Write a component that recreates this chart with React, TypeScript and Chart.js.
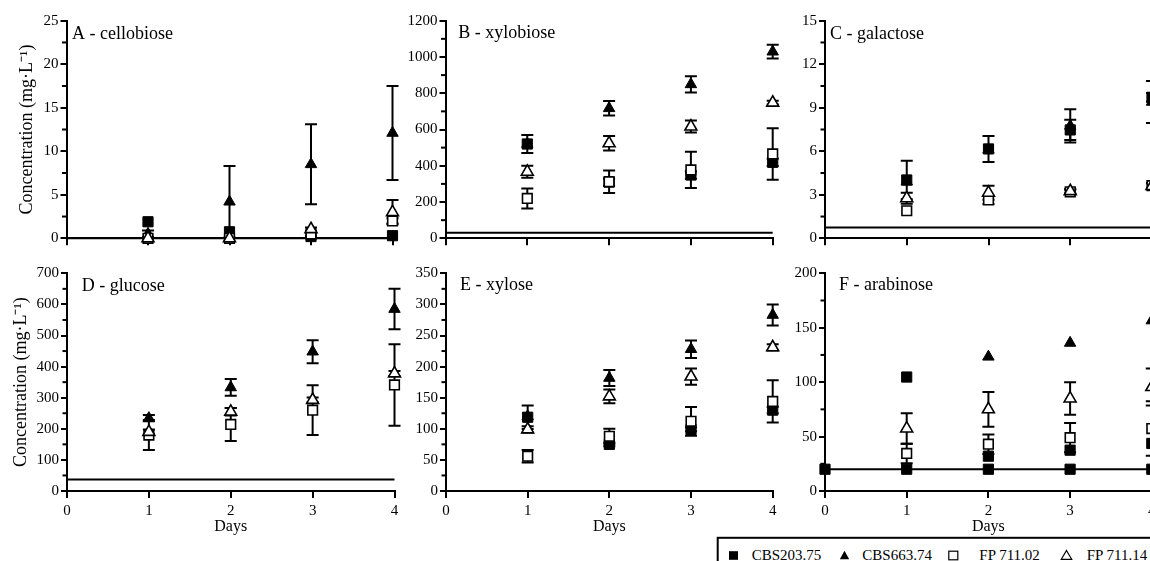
import React, { useEffect, useRef } from 'react';
import { Chart, registerables } from 'chart.js';

Chart.register(...registerables);

const FONT = '"Liberation Serif", "Times New Roman", Times, serif';

// ---------------- data ----------------
const days = [1, 2, 3, 4];
const lineDays = [0, 1, 2, 3, 4];
const seriesNames = ['CBS203.75', 'CBS663.74', 'FP 711.02', 'FP 711.14'];
const panelTitles = ['A - cellobiose', 'B - xylobiose', 'C - galactose', 'D - glucose', 'E - xylose', 'F - arabinose'];
const yAxisMax = [25, 1200, 15, 700, 350, 200];
const yAxisStep = [5, 200, 3, 100, 50, 50];
const yMinorStep = [2.5, 100, 1.5, 50, 25, 25];
const limitLines = [0, 30, 0.75, 37, 0, 20];
const limitMarkers = [false, false, false, false, false, true];
const yAxisTitle = 'Concentration (mg·L⁻¹)';
const xAxisTitle = 'Days';

// rows: CBS203.75, CBS663.74, FP 711.02, FP 711.14 ; columns: days 1..4
const cellobioseMean = [[1.9, 0.75, 0.2, 0.3], [0.5, 4.2, 8.5, 12.1], [0, 0, 0.5, 2.0], [0, 0, 1.05, 3.0]];
const cellobioseSd = [[0, 0, 0, 0], [0.4, 4.1, 4.6, 5.4], [0, 0, 0.2, 0.3], [0, 0, 0.2, 1.4]];

const xylobioseMean = [[520, 310, 349, 419], [520, 717, 849, 1029], [220, 312, 377, 465], [367, 524, 616, 748]];
const xylobioseSd = [[50, 20, 20, 20], [0, 40, 45, 38], [55, 62, 100, 142], [33, 40, 33, 10]];

const galactoseMean = [[4.02, 6.16, 7.47, 9.72], [3.9, 6.1, 7.75, 9.4], [1.9, 2.64, 3.2, 3.63], [2.76, 3.14, 3.25, 3.6]];
const galactoseSd = [[1.33, 0.9, 0.7, 0.3], [0, 0, 1.15, 1.45], [0, 0.27, 0.15, 0.2], [0.38, 0.49, 0.15, 0.2]];

const glucoseMean = [[null, null, null, null], [234, 333, 448, 585], [180, 214, 260, 341], [190, 255, 293, 378]];
const glucoseSd = [[0, 0, 0, 0], [10, 27, 37, 65], [48, 53, 80, 131], [8, 12, 8, 8]];

const xyloseMean = [[118.6, 75, 99, 130], [120, 181.7, 228, 283], [56, 88, 112, 144], [99, 152, 184, 231]];
const xyloseSd = [[19, 3, 3, 5], [0, 13, 14, 17], [10, 12, 23, 34], [5, 11, 13, 5]];

const arabinoseMean = [[104.7, 32, 37.5, 43.7], [null, 123.3, 136, 156.6], [34.5, 43, 49, 57.4], [57.4, 75, 85, 95.5]];
const arabinoseSd = [[0, 0, 0, 0], [0, 0, 0, 0], [9, 9, 13.5, 25], [14, 16, 15, 17]];

const panelMeans = [cellobioseMean, xylobioseMean, galactoseMean, glucoseMean, xyloseMean, arabinoseMean];
const panelSds = [cellobioseSd, xylobioseSd, galactoseSd, glucoseSd, xyloseSd, arabinoseSd];

// ---------------- layout & style ----------------
const layouts = [
  { left: 0, top: 0, width: 420, height: 252, plotLeft: 66.5, plotRight: 392.5, plotTop: 20.7, plotBottom: 238.3, yTitle: true, xLabels: false, titleDx: 5.5, titleDy: 18.6, yTitlePad: 16.2 },
  { left: 380, top: 0, width: 420, height: 252, plotLeft: 445.5, plotRight: 772.7, plotTop: 20.7, plotBottom: 238.3, yTitle: false, xLabels: false, titleDx: 12.8, titleDy: 17.6, yTitlePad: 0 },
  { left: 760, top: 0, width: 420, height: 252, plotLeft: 825, plotRight: 1152, plotTop: 20.7, plotBottom: 238.3, yTitle: false, xLabels: false, titleDx: 5, titleDy: 18.3, yTitlePad: 0 },
  { left: 0, top: 252, width: 420, height: 309, plotLeft: 67, plotRight: 394.5, plotTop: 273.3, plotBottom: 491, yTitle: true, xLabels: true, titleDx: 14.7, titleDy: 17.4, yTitlePad: 10.8 },
  { left: 380, top: 252, width: 420, height: 309, plotLeft: 446, plotRight: 772.7, plotTop: 273.3, plotBottom: 491, yTitle: false, xLabels: true, titleDx: 14, titleDy: 17, yTitlePad: 0 },
  { left: 760, top: 252, width: 420, height: 309, plotLeft: 825, plotRight: 1151.8, plotTop: 273.3, plotBottom: 491, yTitle: false, xLabels: true, titleDx: 14, titleDy: 17, yTitlePad: 0 },
];

const markerStyles: any[] = [
  { pointStyle: 'rect', pointBackgroundColor: '#000', pointBorderColor: '#000', pointBorderWidth: 1, pointRadius: 7.2, order: 4 },
  { pointStyle: 'triangle', pointBackgroundColor: '#000', pointBorderColor: '#000', pointBorderWidth: 1, pointRadius: 6.6, order: 3 },
  { pointStyle: 'rect', pointBackgroundColor: '#fff', pointBorderColor: '#000', pointBorderWidth: 1.6, pointRadius: 6.8, order: 2 },
  { pointStyle: 'triangle', pointBackgroundColor: '#fff', pointBorderColor: '#000', pointBorderWidth: 1.6, pointRadius: 6.9, order: 1 },
];

function decorPlugin(index: number) {
  const L = layouts[index];
  return {
    id: 'decor' + index,
    beforeDatasetsDraw(chart: any) {
      const { ctx } = chart;
      const xs = chart.scales.x;
      const ys = chart.scales.y;
      const mean = panelMeans[index];
      const sd = panelSds[index];
      ctx.save();
      ctx.strokeStyle = '#000';
      ctx.lineWidth = 2;
      mean.forEach((row: (number | null)[], i: number) => {
        row.forEach((m, j) => {
          const e = sd[i][j];
          if (m == null || !e) return;
          const x = xs.getPixelForValue(days[j]);
          const yHi = ys.getPixelForValue(m + e);
          const yLo = ys.getPixelForValue(m - e);
          ctx.beginPath();
          ctx.moveTo(x, yHi);
          ctx.lineTo(x, yLo);
          ctx.moveTo(x - 6, yHi);
          ctx.lineTo(x + 6, yHi);
          ctx.moveTo(x - 6, yLo);
          ctx.lineTo(x + 6, yLo);
          ctx.stroke();
        });
      });
      ctx.restore();
    },
    afterDraw(chart: any) {
      const { ctx, chartArea } = chart;
      const ys = chart.scales.y;
      const minor = yMinorStep[index];
      const major = yAxisStep[index];
      ctx.save();
      ctx.strokeStyle = '#000';
      ctx.lineWidth = 2;
      for (let v = minor; v < ys.max - 1e-9; v += minor) {
        const r = v / major;
        if (Math.abs(r - Math.round(r)) < 1e-6) continue;
        const y = ys.getPixelForValue(v);
        ctx.beginPath();
        ctx.moveTo(chartArea.left - 4.5, y);
        ctx.lineTo(chartArea.left, y);
        ctx.stroke();
      }
      ctx.fillStyle = '#000';
      ctx.font = `18px ${FONT}`;
      ctx.textBaseline = 'alphabetic';
      ctx.textAlign = 'left';
      ctx.fillText(panelTitles[index], chartArea.left + L.titleDx, chartArea.top + L.titleDy);
      ctx.restore();
    },
  };
}

function buildConfig(index: number): any {
  const L = layouts[index];
  const mean = panelMeans[index];
  const datasets: any[] = mean.map((row, i) => ({
    label: seriesNames[i],
    data: days.map((d, j) => ({ x: d, y: row[j] })),
    showLine: false,
    clip: false,
    ...markerStyles[i],
  }));
  datasets.push({
    label: 'limit',
    data: lineDays.map((d) => ({ x: d, y: limitLines[index] })),
    showLine: true,
    borderColor: '#000',
    borderWidth: 2,
    pointRadius: limitMarkers[index] ? 7.2 : 0,
    pointStyle: 'rect',
    pointBackgroundColor: '#000',
    pointBorderColor: '#000',
    pointBorderWidth: 1,
    clip: false,
    fill: false,
    tension: 0,
    order: 5,
  });
  const gridOpts = (len: number) => ({
    display: true,
    drawOnChartArea: false,
    drawTicks: true,
    tickLength: len,
    tickWidth: 2,
    tickColor: '#000',
    color: '#000',
    lineWidth: 2,
  });
  const axisHeight = L.top + L.height - L.plotBottom;
  const axisWidth = L.plotLeft - L.left;
  return {
    type: 'scatter',
    data: { datasets },
    options: {
      responsive: false,
      maintainAspectRatio: false,
      animation: false,
      devicePixelRatio: 1,
      events: [],
      layout: {
        padding: { left: 0, top: L.plotTop - L.top, right: L.left + L.width - L.plotRight, bottom: 0 },
      },
      plugins: { legend: { display: false }, tooltip: { enabled: false }, title: { display: false } },
      scales: {
        x: {
          type: 'linear',
          min: 0,
          max: 4,
          ticks: { stepSize: 1, display: L.xLabels, color: '#000', font: { family: FONT, size: 15 }, padding: 4, maxRotation: 0, autoSkip: false, callback: (v: any) => String(v) },
          grid: gridOpts(7),
          border: { display: true, color: '#000', width: 2 },
          title: { display: L.xLabels, text: xAxisTitle, color: '#000', font: { family: FONT, size: 16 }, padding: { top: 0, bottom: 24.4 } },
          afterFit: (s: any) => { s.height = axisHeight; },
        },
        y: {
          type: 'linear',
          min: 0,
          max: yAxisMax[index],
          ticks: { stepSize: yAxisStep[index], color: '#000', font: { family: FONT, size: 15 }, padding: 2, callback: (v: any) => String(v) },
          grid: gridOpts(6),
          border: { display: true, color: '#000', width: 2 },
          title: { display: L.yTitle, text: yAxisTitle, color: '#000', font: { family: FONT, size: 18 }, padding: { top: L.yTitlePad, bottom: 0 } },
          afterFit: (s: any) => { s.width = axisWidth; },
        },
      },
    },
    plugins: [decorPlugin(index)],
  };
}

function Panel({ index }: { index: number }) {
  const ref = useRef<HTMLCanvasElement | null>(null);
  useEffect(() => {
    if (!ref.current) return;
    const chart = new Chart(ref.current, buildConfig(index));
    return () => chart.destroy();
  }, [index]);
  const L = layouts[index];
  return (
    <canvas
      ref={ref}
      width={L.width}
      height={L.height}
      style={{ position: 'absolute', left: L.left, top: L.top, width: L.width, height: L.height }}
    />
  );
}

const legendMarkerX = [733.5, 844.5, 953.3, 1066.5];
const legendTextX = [751.7, 862.3, 979.3, 1086.7];

function LegendMarker({ i, cx, cy }: { i: number; cx: number; cy: number }) {
  if (i === 0) return <rect x={cx - 4.5} y={cy - 4.3} width={9} height={8.6} fill="#000" />;
  if (i === 1) return <polygon points={`${cx},${cy - 4.8} ${cx + 4.7},${cy + 3.8} ${cx - 4.7},${cy + 3.8}`} fill="#000" />;
  if (i === 2) return <rect x={cx - 4.5} y={cy - 4.3} width={9} height={8.6} fill="#fff" stroke="#000" strokeWidth={1.2} />;
  return <polygon points={`${cx},${cy - 5} ${cx + 5.2},${cy + 3.8} ${cx - 5.2},${cy + 3.8}`} fill="#fff" stroke="#000" strokeWidth={1.2} />;
}

function Legend() {
  return (
    <svg width={1150} height={561} style={{ position: 'absolute', left: 0, top: 0, pointerEvents: 'none' }}>
      <rect x={717.7} y={537.8} width={480} height={40} fill="#fff" stroke="#000" strokeWidth={2} />
      {seriesNames.map((name, i) => (
        <g key={name}>
          <LegendMarker i={i} cx={legendMarkerX[i]} cy={555.5} />
          <text x={legendTextX[i]} y={559.8} fontFamily={FONT} fontSize={15} fill="#000">{name}</text>
        </g>
      ))}
    </svg>
  );
}

export default function App() {
  return (
    <div style={{ position: 'absolute', left: 0, top: 0, width: 1150, height: 561, overflow: 'hidden', background: '#fff' }}>
      {layouts.map((_, i) => (
        <Panel key={i} index={i} />
      ))}
      <Legend />
    </div>
  );
}
